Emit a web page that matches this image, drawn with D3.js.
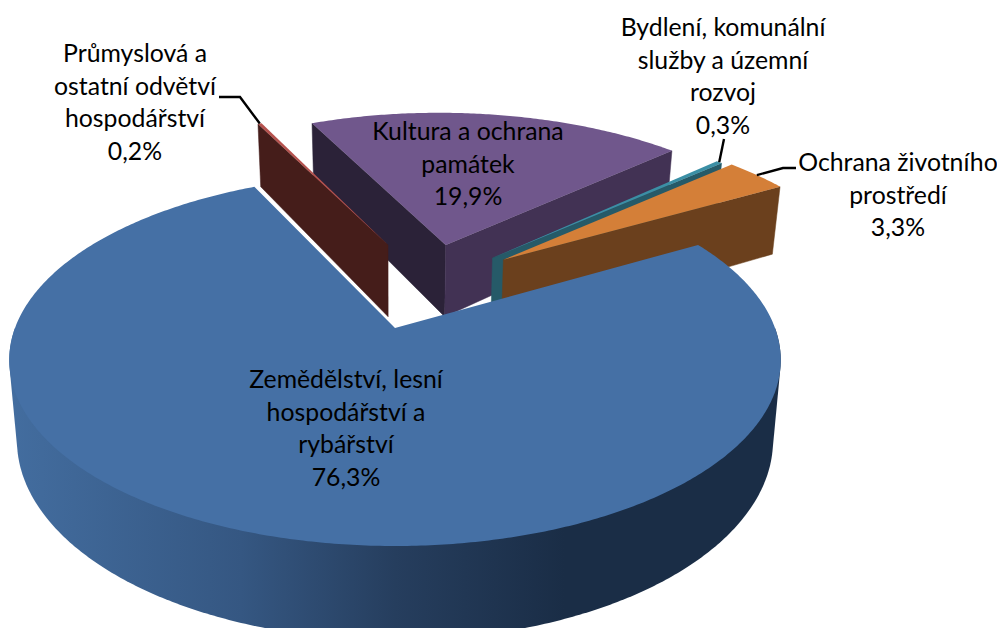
<!DOCTYPE html>
<html lang="cs">
<head>
<meta charset="utf-8">
<script src="https://cdn.jsdelivr.net/npm/d3@7"></script>
<style>
html,body{margin:0;padding:0;background:#fff}
svg{display:block}
text{font-family:Lato,"Noto Sans",sans-serif;font-size:24.8px;fill:#000;text-anchor:middle}
</style>
</head>
<body>
<svg id="chart" width="997" height="628"></svg>
<script>
// Data
const categories = ["Zemědělství, lesní hospodářství a rybářství","Průmyslová a ostatní odvětví hospodářství","Kultura a ochrana památek","Bydlení, komunální služby a územní rozvoj","Ochrana životního prostředí"];
const values = [76.3, 0.2, 19.9, 0.3, 3.3];
const valueLabels = ["76,3%","0,2%","19,9%","0,3%","3,3%"];
const labelLines = [
  ["Zemědělství, lesní","hospodářství a","rybářství"],
  ["Průmyslová a","ostatní odvětví","hospodářství"],
  ["Kultura a ochrana","památek"],
  ["Bydlení, komunální","služby a územní","rozvoj"],
  ["Ochrana životního","prostředí"]
];

// Styling and layout
const topColors  = ["#4570a5","#b5524e","#70578c","#3b8fa5","#d47f38"];
const startWall  = ["#263d5c","#451d1a","#2b2238","#265a68","#6b401d"];
const endWall    = ["#263d5c","#451d1a","#423254","#265a68","#6b401d"];
const explodeX   = [0, -0.02, 0.145, 0.275, 0.305];
const explodeY   = [0, 0.50, 0.50, 0.416, 0.405];
const labelX     = [346, 135, 468, 723, 898];
const labelY     = [388, 62, 140, 36, 171];
const lineStep   = 32.6;
const leaderElbows = [null, [[240,97],[219,97]], null, [[724,139]], [[783,168],[796,168]]];

const svg = d3.select("#chart");
const defs = svg.append("defs");
const grad = defs.append("linearGradient").attr("id","blueSide")
  .attr("gradientUnits","userSpaceOnUse").attr("x1",10).attr("x2",780).attr("y1",0).attr("y2",0);
[[0,"#436d9f"],[0.3,"#355782"],[0.5,"#263e5e"],[0.72,"#1a2d46"],[1,"#1a2d46"]]
  .forEach(s=>grad.append("stop").attr("offset",s[0]).attr("stop-color",s[1]));

// Perspective projection of the unit disc (x right, y away, z down)
const persp = 0.172, cx = 395, cy = 328, R = 380, S = 180.5, depth = 78, shrink = 0.02;
function project(x,y,z){
  const w = 1 + persp*y;
  return [cx + R*x/w*(1 - shrink*z), cy - S*y/w + z*depth/w];
}

const startDeg = 60;
const pie = d3.pie().sort(null)
  .startAngle(startDeg*Math.PI/180)
  .endAngle((startDeg+360)*Math.PI/180);
const arcs = pie(values);
const line = d3.line();
const onRim = (i,a,z)=>project(explodeX[i]+Math.sin(a), explodeY[i]+Math.cos(a), z);
const apex = (i,z)=>project(explodeX[i], explodeY[i], z);
function rimPoints(i,a0,a1,z){
  const n = Math.max(2, Math.ceil((a1-a0)/0.01));
  return d3.range(n+1).map(k=>onRim(i,a0+(a1-a0)*k/n,z));
}

const order = [2,1,3,4,0];
const g = svg.append("g");
order.forEach(i=>{
  const d = arcs[i];
  const a0 = d.startAngle, a1 = d.endAngle;
  // radial cut faces that look towards the viewer
  if(Math.sin(a0) < 0){
    g.append("path").attr("fill",startWall[i]).attr("stroke",startWall[i]).attr("stroke-width",0.5)
     .attr("d",line([apex(i,0),onRim(i,a0,0),onRim(i,a0,1),apex(i,1)])+"Z");
  }
  if(Math.sin(a1) > 0){
    g.append("path").attr("fill",endWall[i]).attr("stroke",endWall[i]).attr("stroke-width",0.5)
     .attr("d",line([apex(i,0),onRim(i,a1,0),onRim(i,a1,1),apex(i,1)])+"Z");
  }
  // outer rim wall, only the big slice shows it: silhouette of the front half
  if(i===0){
    const f0 = Math.PI/2, f1 = Math.PI*1.5;
    const hull = d3.polygonHull(rimPoints(i,f0,f1,0).concat(rimPoints(i,f0,f1,1)));
    g.append("path").attr("fill","url(#blueSide)").attr("d",line(hull)+"Z");
  }
  // top face
  g.append("path").attr("fill",topColors[i])
   .attr("d",line([apex(i,0)].concat(rimPoints(i,a0,a1,0)))+"Z");
});

// Leader lines
leaderElbows.forEach((pts,i)=>{
  if(!pts) return;
  const mid = (arcs[i].startAngle+arcs[i].endAngle)/2;
  svg.append("path").attr("fill","none").attr("stroke","#000").attr("stroke-width",2.4)
   .attr("d",line([onRim(i,mid,0)].concat(pts)));
});

// Labels
labelLines.forEach((lines,i)=>{
  const t = svg.append("text").attr("x",labelX[i]).attr("y",labelY[i]);
  lines.concat([valueLabels[i]]).forEach((s,k)=>{
    t.append("tspan").attr("x",labelX[i]).attr("y",labelY[i]+k*lineStep).text(s);
  });
});
</script>
</body>
</html>
